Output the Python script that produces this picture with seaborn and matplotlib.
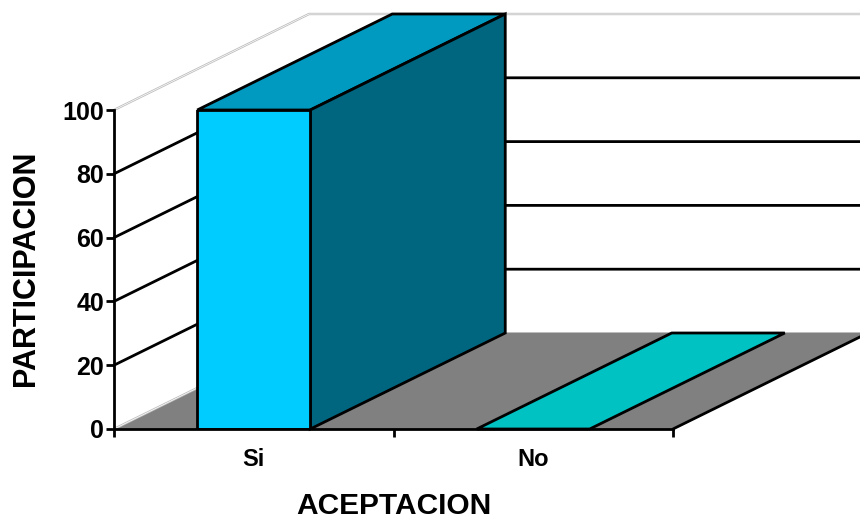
import numpy as np
import pandas as pd
import matplotlib.pyplot as plt
import seaborn as sns

categories = ["Si", "No"]
values = [100, 0]
y_ticks = [0, 20, 40, 60, 80, 100]
x_label = "ACEPTACION"
y_label = "PARTICIPACION"

front_colors = ["#00CCFF", "#00C2C2"]
top_colors = ["#0099BF", "#00C2C2"]
side_colors = ["#006680", "#009292"]
FLOOR = "#808080"
LW = 2

# size of the fake 3d depth, in data units
DX = 195 / 279.5
DY = 96 / 3.19
BAR_W = 113 / 279.5

sns.set_theme(style="white")
plt.rcParams['font.family'] = ['Liberation Sans', 'DejaVu Sans']
plt.rcParams['font.weight'] = 'bold'

fig = plt.figure(figsize=(8.6, 5.18), dpi=100)
ax = fig.add_axes([114 / 860, 1 - 429 / 518, 559 / 860, 319 / 518])

df = pd.DataFrame({"cat": categories, "val": values})
sns.barplot(data=df, x="cat", y="val", hue="cat", palette=front_colors, legend=False,
            saturation=1, width=BAR_W, edgecolor="black", linewidth=LW, zorder=5, ax=ax)

x0, x1 = -0.5, 1.5
ax.set_xlim(x0, x1)
ax.set_ylim(0, 100)

# floor
ax.fill([x0, x0 + DX, x1 + DX, x1], [0, DY, DY, 0], facecolor=FLOOR, edgecolor="none",
        zorder=1, clip_on=False)
ax.plot([x0 + DX, x1 + DX], [DY, DY], color="#B0B0B0", lw=1.2, zorder=0.9, clip_on=False)
ax.plot([x1, x1 + DX], [0, DY], color="black", lw=LW, zorder=2, clip_on=False)

# side walls, grid lines run along the left wall and then the back wall
for t in y_ticks[1:]:
    xs = [x0, x0 + DX, x1 + DX]
    ys = [t, t + DY, t + DY]
    if t == 100:
        ax.plot(xs, ys, color="#BDBDBD", lw=1.7, zorder=0.5, clip_on=False)
        ax.plot(xs, ys, color="white", lw=0.5, zorder=0.6, clip_on=False)
    else:
        ax.plot(xs, ys, color="black", lw=LW, zorder=0.5, clip_on=False)
ax.plot([x0, x0 + DX], [0, DY], color="#BDBDBD", lw=1.7, zorder=1.1, clip_on=False)
ax.plot([x0, x0 + DX], [0, DY], color="white", lw=0.5, zorder=1.2, clip_on=False)

# depth faces of the bars
for i, v in enumerate(values):
    l, r = i - BAR_W / 2, i + BAR_W / 2
    ax.fill([l, l + DX, r + DX, r], [v, v + DY, v + DY, v], facecolor=top_colors[i],
            edgecolor="black", lw=LW, zorder=4, clip_on=False)
    if v > 0:
        ax.fill([r, r + DX, r + DX, r], [0, DY, v + DY, v], facecolor=side_colors[i],
                edgecolor="black", lw=LW, zorder=4, clip_on=False)

sns.despine(ax=ax)
for s in ["left", "bottom"]:
    ax.spines[s].set_linewidth(LW)
    ax.spines[s].set_color("black")
    ax.spines[s].set_zorder(6)

ax.set_yticks(y_ticks)
ax.set_xticks([0, 1])
ax.set_xticks([-0.5, 0.5, 1.5], minor=True)
ax.set_xticklabels(categories, fontsize=17, fontweight="bold")
ax.tick_params(axis="x", which="major", length=0, pad=14, colors="black")
ax.tick_params(axis="x", which="minor", length=6, width=LW, color="black", bottom=True)
ax.tick_params(axis="y", length=6, width=LW, color="black", left=True, labelsize=18,
               labelcolor="black", pad=1)

ax.set_xlabel(x_label, fontsize=21.5, fontweight="bold", color="black")
ax.set_ylabel(y_label, fontsize=22, fontweight="bold", color="black")
ax.xaxis.set_label_coords(0.5, (429 - 491.5) / 319)
ax.yaxis.set_label_coords((41 - 114) / 559, (429 - 268) / 319)

fig.savefig("out.png", dpi=100)
